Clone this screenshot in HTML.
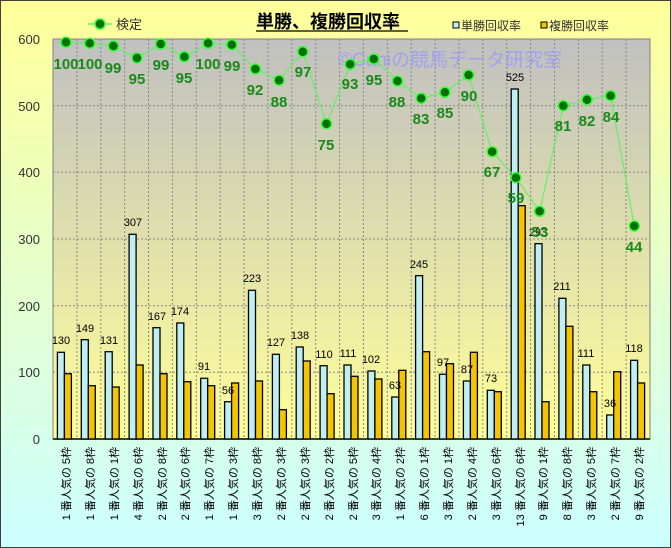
<!DOCTYPE html>
<html><head><meta charset="utf-8"><style>html,body{margin:0;padding:0;}svg{display:block;}</style></head>
<body>
<svg width="671" height="548" viewBox="0 0 671 548" xmlns="http://www.w3.org/2000/svg" font-family="'Liberation Sans','Noto Sans CJK JP',sans-serif">
<defs>
<linearGradient id="bg" x1="0" y1="0" x2="0" y2="1"><stop offset="0" stop-color="#ffff99"/><stop offset="1" stop-color="#ccffff"/></linearGradient>
<linearGradient id="pl" x1="0" y1="0" x2="0" y2="1"><stop offset="0" stop-color="#c0c0c0"/><stop offset="1" stop-color="#ffff99"/></linearGradient>
</defs>
<rect x="0.5" y="0.5" width="670" height="547" fill="url(#bg)" stroke="#404040"/>
<rect x="53" y="39" width="597" height="400" fill="url(#pl)" stroke="#808080"/>
<g stroke="#888" stroke-dasharray="2,2" stroke-width="1">
<line x1="53" x2="650" y1="105.7" y2="105.7"/><line x1="53" x2="650" y1="172.3" y2="172.3"/><line x1="53" x2="650" y1="239" y2="239"/><line x1="53" x2="650" y1="305.7" y2="305.7"/><line x1="53" x2="650" y1="372.3" y2="372.3"/>
<line x1="76.9" x2="76.9" y1="39" y2="439"/><line x1="100.8" x2="100.8" y1="39" y2="439"/><line x1="124.6" x2="124.6" y1="39" y2="439"/><line x1="148.5" x2="148.5" y1="39" y2="439"/><line x1="172.4" x2="172.4" y1="39" y2="439"/><line x1="196.3" x2="196.3" y1="39" y2="439"/><line x1="220.2" x2="220.2" y1="39" y2="439"/><line x1="244" x2="244" y1="39" y2="439"/><line x1="267.9" x2="267.9" y1="39" y2="439"/><line x1="291.8" x2="291.8" y1="39" y2="439"/><line x1="315.7" x2="315.7" y1="39" y2="439"/><line x1="339.6" x2="339.6" y1="39" y2="439"/><line x1="363.4" x2="363.4" y1="39" y2="439"/><line x1="387.3" x2="387.3" y1="39" y2="439"/><line x1="411.2" x2="411.2" y1="39" y2="439"/><line x1="435.1" x2="435.1" y1="39" y2="439"/><line x1="459" x2="459" y1="39" y2="439"/><line x1="482.8" x2="482.8" y1="39" y2="439"/><line x1="506.7" x2="506.7" y1="39" y2="439"/><line x1="530.6" x2="530.6" y1="39" y2="439"/><line x1="554.5" x2="554.5" y1="39" y2="439"/><line x1="578.4" x2="578.4" y1="39" y2="439"/><line x1="602.2" x2="602.2" y1="39" y2="439"/><line x1="626.1" x2="626.1" y1="39" y2="439"/>
</g>
<line x1="53" x2="650" y1="439" y2="439" stroke="#000" stroke-width="1.5"/>
<g font-size="13" fill="#333" text-anchor="end">
<text x="40" y="44">600</text><text x="40" y="111">500</text><text x="40" y="177">400</text><text x="40" y="244">300</text><text x="40" y="311">200</text><text x="40" y="377">100</text><text x="40" y="444">0</text>
</g>
<text x="338" y="66" font-size="19" fill="#9999ff" fill-opacity="0.8">©Caniの競馬データ研究室</text>
<g stroke="#000" stroke-width="1.3" fill="#bfeff2">
<rect x="57.4" y="352.3" width="7" height="86.7"/><rect x="81.3" y="339.7" width="7" height="99.3"/><rect x="105.2" y="351.7" width="7" height="87.3"/><rect x="129.1" y="234.3" width="7" height="204.7"/><rect x="153" y="327.7" width="7" height="111.3"/><rect x="176.8" y="323" width="7" height="116"/><rect x="200.7" y="378.3" width="7" height="60.7"/><rect x="224.6" y="401.7" width="7" height="37.3"/><rect x="248.5" y="290.3" width="7" height="148.7"/><rect x="272.4" y="354.3" width="7" height="84.7"/><rect x="296.2" y="347" width="7" height="92"/><rect x="320.1" y="365.7" width="7" height="73.3"/><rect x="344" y="365" width="7" height="74"/><rect x="367.9" y="371" width="7" height="68"/><rect x="391.8" y="397" width="7" height="42"/><rect x="415.6" y="275.7" width="7" height="163.3"/><rect x="439.5" y="374.3" width="7" height="64.7"/><rect x="463.4" y="381" width="7" height="58"/><rect x="487.3" y="390.3" width="7" height="48.7"/><rect x="511.2" y="89" width="7" height="350"/><rect x="535" y="243.7" width="7" height="195.3"/><rect x="558.9" y="298.3" width="7" height="140.7"/><rect x="582.8" y="365" width="7" height="74"/><rect x="606.7" y="415" width="7" height="24"/><rect x="630.6" y="360.3" width="7" height="78.7"/>
</g>
<g stroke="#000" stroke-width="1.3" fill="#f5c400">
<rect x="64.4" y="373.7" width="7" height="65.3"/><rect x="88.3" y="385.7" width="7" height="53.3"/><rect x="112.2" y="387" width="7" height="52"/><rect x="136.1" y="365" width="7" height="74"/><rect x="160" y="373.7" width="7" height="65.3"/><rect x="183.8" y="381.7" width="7" height="57.3"/><rect x="207.7" y="385.7" width="7" height="53.3"/><rect x="231.6" y="383" width="7" height="56"/><rect x="255.5" y="381" width="7" height="58"/><rect x="279.4" y="409.7" width="7" height="29.3"/><rect x="303.2" y="361" width="7" height="78"/><rect x="327.1" y="393.7" width="7" height="45.3"/><rect x="351" y="376.3" width="7" height="62.7"/><rect x="374.9" y="379" width="7" height="60"/><rect x="398.8" y="370.3" width="7" height="68.7"/><rect x="422.6" y="351.7" width="7" height="87.3"/><rect x="446.5" y="363.7" width="7" height="75.3"/><rect x="470.4" y="352.3" width="7" height="86.7"/><rect x="494.3" y="391.7" width="7" height="47.3"/><rect x="518.2" y="205.7" width="7" height="233.3"/><rect x="542" y="401.7" width="7" height="37.3"/><rect x="565.9" y="326.3" width="7" height="112.7"/><rect x="589.8" y="391.7" width="7" height="47.3"/><rect x="613.7" y="371.7" width="7" height="67.3"/><rect x="637.6" y="383" width="7" height="56"/>
</g>
<g font-size="11" fill="#000" text-anchor="middle">
<text x="61" y="344">130</text><text x="85" y="332">149</text><text x="109" y="344">131</text><text x="133" y="226">307</text><text x="157" y="320">167</text><text x="180" y="315">174</text><text x="204" y="370">91</text><text x="228" y="394">56</text><text x="252" y="282">223</text><text x="276" y="346">127</text><text x="300" y="339">138</text><text x="324" y="358">110</text><text x="348" y="357">111</text><text x="371" y="363">102</text><text x="395" y="389">63</text><text x="419" y="268">245</text><text x="443" y="366">97</text><text x="467" y="373">87</text><text x="491" y="382">73</text><text x="515" y="81">525</text><text x="538" y="236">293</text><text x="562" y="290">211</text><text x="586" y="357">111</text><text x="610" y="407">36</text><text x="634" y="352">118</text>
</g>
<polyline fill="none" stroke="#66ee66" stroke-width="1.2" points="66,42.3 89.7,43.3 113.4,46 137,58 160.7,44 184.4,56.7 208.1,43.3 231.8,44.7 255.4,69 279.1,80.3 302.8,51.7 326.5,123.7 350.2,64.3 373.8,59 397.5,81 421.2,98.3 444.9,92.3 468.6,75 492.2,151.7 515.9,177.7 539.6,211.3 563.3,105.7 587,99.7 610.6,95.7 634.3,226"/>
<g fill="#007000" stroke="#33ff33" stroke-width="1.5">
<circle cx="66" cy="42.3" r="5"/><circle cx="89.7" cy="43.3" r="5"/><circle cx="113.4" cy="46" r="5"/><circle cx="137" cy="58" r="5"/><circle cx="160.7" cy="44" r="5"/><circle cx="184.4" cy="56.7" r="5"/><circle cx="208.1" cy="43.3" r="5"/><circle cx="231.8" cy="44.7" r="5"/><circle cx="255.4" cy="69" r="5"/><circle cx="279.1" cy="80.3" r="5"/><circle cx="302.8" cy="51.7" r="5"/><circle cx="326.5" cy="123.7" r="5"/><circle cx="350.2" cy="64.3" r="5"/><circle cx="373.8" cy="59" r="5"/><circle cx="397.5" cy="81" r="5"/><circle cx="421.2" cy="98.3" r="5"/><circle cx="444.9" cy="92.3" r="5"/><circle cx="468.6" cy="75" r="5"/><circle cx="492.2" cy="151.7" r="5"/><circle cx="515.9" cy="177.7" r="5"/><circle cx="539.6" cy="211.3" r="5"/><circle cx="563.3" cy="105.7" r="5"/><circle cx="587" cy="99.7" r="5"/><circle cx="610.6" cy="95.7" r="5"/><circle cx="634.3" cy="226" r="5"/>
</g>
<g font-size="15" font-weight="bold" fill="#1a8a1a" text-anchor="middle">
<text x="66" y="69">100</text><text x="90" y="69">100</text><text x="113" y="73">99</text><text x="137" y="84">95</text><text x="161" y="70">99</text><text x="184" y="83">95</text><text x="208" y="69">100</text><text x="232" y="71">99</text><text x="255" y="95">92</text><text x="279" y="107">88</text><text x="303" y="77">97</text><text x="326" y="150">75</text><text x="350" y="89">93</text><text x="374" y="85">95</text><text x="397" y="107">88</text><text x="421" y="124">83</text><text x="445" y="118">85</text><text x="469" y="101">90</text><text x="492" y="177">67</text><text x="516" y="203">59</text><text x="540" y="237">53</text><text x="563" y="131">81</text><text x="587" y="126">82</text><text x="611" y="122">84</text><text x="634" y="252">44</text>
</g>
<g font-size="11" fill="#000" text-anchor="end">
<text transform="translate(70,447) rotate(-90)">1 番人気の 5枠</text>
<text transform="translate(94,447) rotate(-90)">1 番人気の 8枠</text>
<text transform="translate(118,447) rotate(-90)">1 番人気の 1枠</text>
<text transform="translate(142,447) rotate(-90)">4 番人気の 6枠</text>
<text transform="translate(166,447) rotate(-90)">2 番人気の 8枠</text>
<text transform="translate(189,447) rotate(-90)">2 番人気の 6枠</text>
<text transform="translate(213,447) rotate(-90)">1 番人気の 7枠</text>
<text transform="translate(237,447) rotate(-90)">1 番人気の 3枠</text>
<text transform="translate(261,447) rotate(-90)">3 番人気の 8枠</text>
<text transform="translate(285,447) rotate(-90)">2 番人気の 3枠</text>
<text transform="translate(309,447) rotate(-90)">2 番人気の 3枠</text>
<text transform="translate(333,447) rotate(-90)">2 番人気の 2枠</text>
<text transform="translate(357,447) rotate(-90)">2 番人気の 5枠</text>
<text transform="translate(380,447) rotate(-90)">3 番人気の 4枠</text>
<text transform="translate(404,447) rotate(-90)">1 番人気の 2枠</text>
<text transform="translate(428,447) rotate(-90)">6 番人気の 1枠</text>
<text transform="translate(452,447) rotate(-90)">3 番人気の 1枠</text>
<text transform="translate(476,447) rotate(-90)">2 番人気の 4枠</text>
<text transform="translate(500,447) rotate(-90)">3 番人気の 6枠</text>
<text transform="translate(524,447) rotate(-90)">13 番人気の 6枠</text>
<text transform="translate(547,447) rotate(-90)">9 番人気の 1枠</text>
<text transform="translate(571,447) rotate(-90)">8 番人気の 8枠</text>
<text transform="translate(595,447) rotate(-90)">3 番人気の 5枠</text>
<text transform="translate(619,447) rotate(-90)">2 番人気の 7枠</text>
<text transform="translate(643,447) rotate(-90)">9 番人気の 2枠</text>
</g>
<line x1="88" x2="112" y1="24" y2="24" stroke="#66ee66" stroke-width="1.5"/>
<circle cx="100" cy="24" r="5" fill="#007000" stroke="#33ff33" stroke-width="1.5"/>
<text x="116" y="29" font-size="13" fill="#333">検定</text>
<text x="256" y="28" font-size="18" font-weight="bold" fill="#000">単勝、複勝回収率</text>
<line x1="256" x2="408" y1="31" y2="31" stroke="#000" stroke-width="1.3"/>
<rect x="453" y="22" width="6" height="6" fill="#bfeff2" stroke="#000"/>
<text x="461" y="30" font-size="12" fill="#333">単勝回収率</text>
<rect x="541" y="22" width="6" height="6" fill="#f5c400" stroke="#000"/>
<text x="549" y="30" font-size="12" fill="#333">複勝回収率</text>
</svg>
</body></html>
